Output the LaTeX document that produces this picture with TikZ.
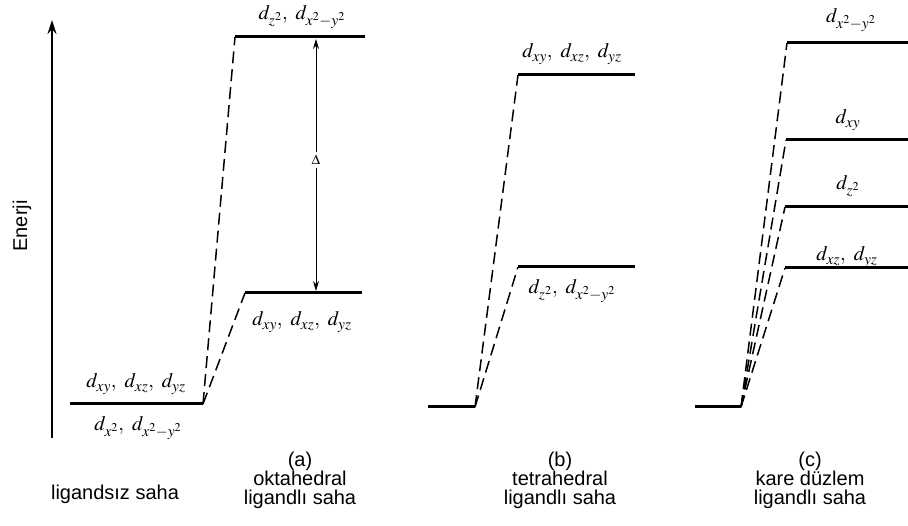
\documentclass[tikz,border=0pt]{standalone}
\usepackage{mathptmx}
\usepackage[no-math]{fontspec}
\setmainfont{Liberation Sans}
\DeclareMathSizes{20.5}{20.5}{15.5}{12}
\usetikzlibrary{arrows.meta}
\begin{document}
\begin{tikzpicture}[x=1pt,y=-1pt,
  level/.style={line width=3pt},
  conn/.style={line width=1.5pt, dash pattern=on 12pt off 6pt},
  orb/.style={font=\fontsize{20.5}{24}\selectfont, inner sep=0pt},
  captxt/.style={font=\fontsize{20}{19}\selectfont, align=center, inner sep=0pt},
  axis/.style={line width=1.3pt, -{Stealth[length=14pt,width=9pt]}},
  gap/.style={line width=1pt, {Stealth[length=10pt,width=6pt]}-{Stealth[length=10pt,width=6pt]}}
]
\useasboundingbox (0,0) rectangle (908,526);
\fill[white] (0,0) rectangle (908,526);

% energy axis
\coordinate (ax0) at (52,438);
\coordinate (ax1) at (52,20);
\draw[axis] (ax0) -- (ax1);
\node[rotate=90, font=\fontsize{20}{22}\selectfont] (en) at (22,226) {Enerji};

% free ion
\coordinate (f0) at (70,404);
\coordinate (f1) at (203,404);
\draw[level] (f0) -- (f1);
\node[orb] (fl1) at (136,384) {$d_{xy},\ d_{xz},\ d_{yz}$};
\node[orb] (fl2) at (138,428) {$d_{x^2},\ d_{x^2-y^2}$};

% octahedral
\coordinate (o1a) at (235,37);
\coordinate (o1b) at (365,37);
\coordinate (o2a) at (245,293);
\coordinate (o2b) at (362,293);
\draw[level] (o1a) -- (o1b);
\draw[level] (o2a) -- (o2b);
\draw[conn] (f1) -- (o1a);
\draw[conn] (f1) -- (o2a);
\coordinate (da) at (316,39);
\coordinate (db) at (316,291);
\draw[gap] (da) -- (db);
\node[fill=white, inner sep=3pt, font=\fontsize{14}{15}\selectfont] (delta) at (316,160) {$\Delta$};
\node[orb] (ol1) at (302,17) {$d_{z^2},\ d_{x^2-y^2}$};
\node[orb] (ol2) at (302,322) {$d_{xy},\ d_{xz},\ d_{yz}$};

% tetrahedral
\coordinate (t0) at (428,407);
\coordinate (t1) at (475,407);
\coordinate (t2a) at (518,75);
\coordinate (t2b) at (635,75);
\coordinate (t3a) at (518,267);
\coordinate (t3b) at (635,267);
\draw[level] (t0) -- (t1);
\draw[level] (t2a) -- (t2b);
\draw[level] (t3a) -- (t3b);
\draw[conn] (t1) -- (t2a);
\draw[conn] (t1) -- (t3a);
\node[orb] (tl1) at (572,54) {$d_{xy},\ d_{xz},\ d_{yz}$};
\node[orb] (tl2) at (572,291) {$d_{z^2},\ d_{x^2-y^2}$};

% square planar
\coordinate (s0) at (695,407);
\coordinate (s1) at (741,407);
\coordinate (s2a) at (787,43);
\coordinate (s2b) at (908,43);
\coordinate (s3a) at (786,140);
\coordinate (s3b) at (908,140);
\coordinate (s4a) at (785,207);
\coordinate (s4b) at (908,207);
\coordinate (s5a) at (785,268);
\coordinate (s5b) at (908,268);
\draw[level] (s0) -- (s1);
\foreach \n in {s2,s3,s4,s5}{\draw[level] (\n a) -- (\n b);}
\foreach \n in {s2a,s3a,s4a,s5a}{\draw[conn] (s1) -- (\n);}
\node[orb] (sl2) at (851,20) {$d_{x^2-y^2}$};
\node[orb] (sl3) at (848,120) {$d_{xy}$};
\node[orb] (sl4) at (848,186) {$d_{z^2}$};
\node[orb] (sl5) at (847,257) {$d_{xz},\ d_{yz}$};

% captions
\node[captxt] (c0) at (115,494) {ligandsız saha};
\node[captxt] (ca) at (300,480) {(a)\\oktahedral\\ligandlı saha};
\node[captxt] (cb) at (560,480) {(b)\\tetrahedral\\ligandlı saha};
\node[captxt] (cc) at (810,480) {(c)\\kare düzlem\\ligandlı saha};
\end{tikzpicture}
\end{document}
